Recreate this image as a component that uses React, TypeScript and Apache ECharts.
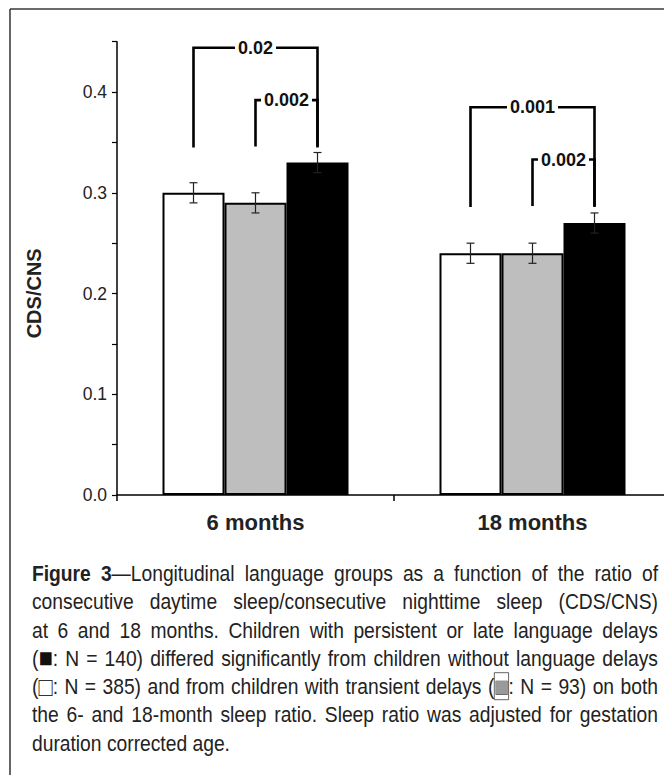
import React, { useEffect, useRef } from "react";
import * as echarts from "echarts";

// ---------- data ----------
const categories = ["6 months", "18 months"];
const groupNames = ["Without language delays", "Transient delays", "Persistent or late delays"];
const noDelayMeans = [0.3, 0.24];
const transientMeans = [0.29, 0.24];
const persistentMeans = [0.33, 0.27];
const noDelayErr = [0.01, 0.01];
const transientErr = [0.01, 0.01];
const persistentErr = [0.01, 0.01];

const yMin = 0;
const yMax = 0.45;
const yStep = 0.05;

// significance brackets
const bracketCategory = [0, 0, 1, 1];
const bracketFrom = [0, 1, 0, 1];
const bracketTo = [2, 2, 2, 2];
const bracketBase = [0.345, 0.346, 0.286, 0.287];
const bracketTop = [0.444, 0.392, 0.385, 0.333];
const bracketLabels = ["0.02", "0.002", "0.001", "0.002"];

const captionLines = [
  "{b|Figure} {b|3}—Longitudinal language groups as a function of the ratio of",
  "consecutive daytime sleep/consecutive nighttime sleep (CDS/CNS)",
  "at 6 and 18 months. Children with persistent or late language delays",
  "({k|■}: N = 140) differed significantly from children without language delays",
  "({w|□}: N = 385) and from children with transient delays ({g|■}: N = 93) on both",
  "the 6- and 18-month sleep ratio. Sleep ratio was adjusted for gestation",
  "duration corrected age.",
];

// ---------- layout / style ----------
const W = 664;
const H = 767;
const BAR_W = 62;
const FONT = '"Liberation Sans", Arial, Helvetica, sans-serif';
const TEXT = "#222";
const CAP_SIZE = 22;
const SQ_SIZE = 27;
const CAP_SX = 0.875;
const CAP_LEFT = 24;
const CAP_RIGHT = 650;
const CAP_TOP = 565;
const CAP_LH = 28.3;

if (typeof document !== "undefined") {
  document.documentElement.style.overflow = "hidden";
  document.body.style.overflow = "hidden";
}

function parseSegments(word: string) {
  const segs: { style: string | null; text: string }[] = [];
  const re = /\{(\w+)\|([^}]*)\}/g;
  let last = 0;
  let m: RegExpExecArray | null;
  while ((m = re.exec(word))) {
    if (m.index > last) segs.push({ style: null, text: word.slice(last, m.index) });
    segs.push({ style: m[1], text: m[2] });
    last = m.index + m[0].length;
  }
  if (last < word.length) segs.push({ style: null, text: word.slice(last) });
  return segs;
}

function buildCaption() {
  const canvas = document.createElement("canvas");
  const ctx = canvas.getContext("2d")!;
  const measure = (word: string) => {
    let w = 0;
    for (const s of parseSegments(word)) {
      const size = s.style && s.style !== "b" ? SQ_SIZE : CAP_SIZE;
      ctx.font = `${s.style === "b" ? "bold " : ""}${size}px ${FONT}`;
      w += ctx.measureText(s.text).width;
    }
    return w * CAP_SX;
  };
  ctx.font = `${CAP_SIZE}px ${FONT}`;
  const space = ctx.measureText(" ").width * CAP_SX;
  const rich = {
    b: { fontWeight: "bold", fontSize: CAP_SIZE, fontFamily: FONT, fill: TEXT, color: TEXT },
    k: { fontSize: SQ_SIZE, fontFamily: FONT, fill: "#111", color: "#111" },
    w: { fontSize: SQ_SIZE, fontFamily: FONT, fill: "#333", color: "#333" },
    g: {
      fontSize: SQ_SIZE,
      fontFamily: FONT,
      fill: "#9a9a9a",
      color: "#9a9a9a",
      stroke: "#333",
      lineWidth: 0.8,
      textBorderColor: "#333",
      textBorderWidth: 0.8,
    },
  };
  const els: any[] = [];
  captionLines.forEach((line, li) => {
    const words = line.split(" ");
    const widths = words.map(measure);
    const total = widths.reduce((a, b) => a + b, 0);
    const isLast = li === captionLines.length - 1;
    const gap = isLast ? space : (CAP_RIGHT - CAP_LEFT - total) / (words.length - 1);
    let x = CAP_LEFT;
    const y = CAP_TOP + li * CAP_LH;
    words.forEach((w, wi) => {
      els.push({
        type: "text",
        x,
        y,
        scaleX: CAP_SX,
        silent: true,
        style: {
          text: w,
          fontSize: CAP_SIZE,
          fontFamily: FONT,
          fill: TEXT,
          verticalAlign: "middle",
          align: "left",
          rich,
        },
      });
      x += widths[wi] + gap;
    });
  });
  return els;
}

function errorSeries(k: number, means: number[], errs: number[]) {
  return {
    type: "custom",
    name: groupNames[k] + " SE",
    z: 4,
    data: means.map((m, i) => [i, m, errs[i]]),
    encode: { x: 0, y: 1 },
    renderItem: (params: any, api: any) => {
      const ci = api.value(0);
      const m = api.value(1);
      const e = api.value(2);
      const p = api.coord([ci, m]);
      const x = p[0] + (k - 1) * BAR_W;
      const yT = api.coord([ci, m + e])[1];
      const yB = api.coord([ci, m - e])[1];
      const st = { stroke: "#222", lineWidth: 1.2 };
      return {
        type: "group",
        children: [
          { type: "line", shape: { x1: x, y1: yT, x2: x, y2: yB }, style: st },
          { type: "line", shape: { x1: x - 4, y1: yT, x2: x + 4, y2: yT }, style: st },
          { type: "line", shape: { x1: x - 4, y1: yB, x2: x + 4, y2: yB }, style: st },
        ],
      };
    },
  };
}

export default function App() {
  const ref = useRef<HTMLDivElement>(null);
  useEffect(() => {
    if (!ref.current) return;
    const chart = echarts.init(ref.current, null, { renderer: "svg" });
    const barStyle = (color: string) => ({ color, borderColor: "#000", borderWidth: 2 });
    const option: any = {
      animation: false,
      backgroundColor: "#fff",
      grid: { left: 109, right: 1, top: 33.7, bottom: H - 487 },
      xAxis: {
        type: "category",
        data: categories,
        axisLine: { lineStyle: { color: "#000", width: 1.5 } },
        axisTick: { show: true, length: 6, interval: 0, lineStyle: { color: "#000", width: 1.5 } },
        axisLabel: { fontFamily: FONT, fontWeight: "bold", fontSize: 22, color: TEXT, margin: 16 },
      },
      yAxis: {
        type: "value",
        min: yMin,
        max: yMax,
        interval: yStep,
        name: "CDS/CNS",
        nameLocation: "middle",
        nameGap: 73,
        nameTextStyle: {
          fontFamily: FONT,
          fontWeight: "bold",
          fontSize: 20,
          color: TEXT,
          padding: [0, 50, 0, 0],
        },
        axisLine: { show: true, lineStyle: { color: "#000", width: 1.5 } },
        axisTick: { show: true, length: 5, lineStyle: { color: "#000", width: 1.2 } },
        splitLine: { show: false },
        axisLabel: {
          fontFamily: FONT,
          fontSize: 17.5,
          color: TEXT,
          margin: 10,
          formatter: (v: number) => {
            const r = Math.round(v * 100);
            return r % 10 === 0 ? (r / 100).toFixed(1) : "";
          },
        },
      },
      series: [
        { type: "bar", name: groupNames[0], data: noDelayMeans, barWidth: BAR_W, barGap: "0%", itemStyle: barStyle("#ffffff") },
        { type: "bar", name: groupNames[1], data: transientMeans, barWidth: BAR_W, barGap: "0%", itemStyle: barStyle("#bebebe") },
        { type: "bar", name: groupNames[2], data: persistentMeans, barWidth: BAR_W, barGap: "0%", itemStyle: barStyle("#000000") },
        errorSeries(0, noDelayMeans, noDelayErr),
        errorSeries(1, transientMeans, transientErr),
        errorSeries(2, persistentMeans, persistentErr),
        {
          type: "custom",
          name: "p-values",
          z: 5,
          data: bracketCategory.map((c, i) => [c, bracketBase[i], bracketTop[i], bracketFrom[i], bracketTo[i]]),
          encode: { x: 0, y: 1 },
          renderItem: (params: any, api: any) => {
            const ci = api.value(0);
            const p0 = api.coord([ci, api.value(1)]);
            const p1 = api.coord([ci, api.value(2)]);
            const xL = p0[0] + (api.value(3) - 1) * BAR_W;
            const xR = p0[0] + (api.value(4) - 1) * BAR_W;
            return {
              type: "group",
              children: [
                {
                  type: "polyline",
                  shape: { points: [[xL, p0[1]], [xL, p1[1]], [xR, p1[1]], [xR, p0[1]]] },
                  style: { stroke: "#000", lineWidth: 2.6, fill: "none", lineJoin: "miter" },
                },
                {
                  type: "text",
                  x: (xL + xR) / 2,
                  y: p1[1],
                  style: {
                    text: bracketLabels[params.dataIndex],
                    fontFamily: FONT,
                    fontWeight: "bold",
                    fontSize: 18,
                    fill: "#111",
                    align: "center",
                    verticalAlign: "middle",
                    backgroundColor: "#fff",
                    padding: [1, 3],
                  },
                },
              ],
            };
          },
        },
      ],
      graphic: [
        { type: "line", silent: true, shape: { x1: 2, y1: 1, x2: W, y2: 1 }, style: { stroke: "#6a6a6a", lineWidth: 2 } },
        { type: "line", silent: true, shape: { x1: 2, y1: 1, x2: 2, y2: H }, style: { stroke: "#333", lineWidth: 1.5 } },
        ...buildCaption(),
      ],
    };
    chart.setOption(option);
    return () => chart.dispose();
  }, []);
  return <div ref={ref} style={{ width: W, height: H }} />;
}
